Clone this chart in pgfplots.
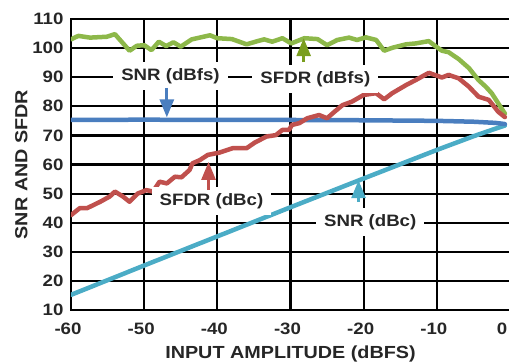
\documentclass[border=0pt]{standalone}
\usepackage{fontspec}
\setmainfont{Liberation Sans}[FakeStretch=1.13]
\usepackage{pgfplots}
\pgfplotsset{compat=1.18}
\usetikzlibrary{arrows.meta,calc}

\definecolor{sfdrfs}{HTML}{8DB84A}
\definecolor{sfdrfsarrow}{HTML}{7A9E1E}
\definecolor{sfdrc}{HTML}{C0504D}
\definecolor{snrfs}{HTML}{4A7EBF}
\definecolor{snrc}{HTML}{4BACC6}

\begin{document}
\begin{tikzpicture}[
  lbl/.style={font=\bfseries\fontsize{16.5}{18}\selectfont, text=black!85, fill=white,
              inner xsep=8pt, inner ysep=6pt},
  arr/.style={line width=2.8pt, -{Triangle[width=14pt,length=18pt]}}]
\begin{axis}[
  scale only axis, width=439pt, height=291pt,
  xmin=-60, xmax=0, ymin=10, ymax=110,
  xtick={-60,-50,...,-10}, ytick={10,20,...,110},
  extra x ticks={0},
  extra x tick style={xticklabel style={xshift=-5pt}},
  grid=major, major grid style={black, line width=2.2pt},
  axis line style={black, line width=2.2pt},
  major tick length=0pt,
  /pgf/number format/assume math mode=true,
  tick label style={font=\bfseries\fontsize{16.5}{18}\selectfont, text=black!85},
  xticklabel style={yshift=-9pt, xshift=-3pt},
  yticklabel style={xshift=-4pt},
  xlabel={INPUT AMPLITUDE (dBFS)},
  ylabel={SNR AND SFDR},
  label style={font=\bfseries\fontsize{17.5}{19}\selectfont, text=black!85},
  xlabel style={yshift=-5pt},
  ylabel style={yshift=-2pt},
  every axis plot/.style={line width=4.5pt, line join=round, line cap=round},
]
\coordinate (ll) at (rel axis cs:0,0);

% SNR (dBc)
\addplot[snrc] coordinates {
(-60,15.2)(-50,25.3)(-40,35.3)(-30,45.3)(-20,55.2)(-10,65.0)(-5,69.7)(-2,72.3)(-0.7,73.4)};

% SNR (dBfs)
\addplot[snrfs] coordinates {
(-60,75.3)(-50,75.4)(-40,75.3)(-30,75.3)(-20,75.2)(-10,75.0)(-5,74.7)(-2,74.3)(-0.7,73.9)};

% SFDR (dBfs)
\addplot[sfdrfs] coordinates {
(-60,103.0)(-59,104.2)(-57.4,103.6)(-55.1,103.9)(-54,104.8)(-52,99.1)(-51,100.8)
(-50,101.0)(-49,99.3)(-48,102.2)(-47,100.7)(-46,102.0)(-45,100.5)(-43.5,103.0)
(-41,104.4)(-40,103.4)(-38,103.1)(-36,101.3)(-34.5,102.4)(-33.6,103.0)(-32.5,102.2)
(-31.1,103.4)(-29.9,101.6)(-28.1,103.4)(-26.3,103.1)(-25,101.0)(-23.6,102.8)
(-22,103.6)(-20.9,102.8)(-19.7,103.7)(-18.3,102.8)(-17.2,99.1)(-16.1,100.1)
(-14.2,101.3)(-12.9,101.6)(-11.1,102.4)(-10.1,100.5)(-9.3,99.1)(-8.4,98.6)
(-7,96.2)(-5.6,93.1)(-4.3,89.0)(-3.3,86.7)(-2.5,84.5)(-1.6,81.0)(-0.7,77.5)};

% SFDR (dBc)
\addplot[sfdrc] coordinates {
(-60,42.6)(-58.8,45.0)(-57.8,45.0)(-56,47.2)(-54.7,49.0)(-54,50.7)(-52.9,49.0)
(-52,47.2)(-50.9,50.0)(-49.7,51.2)(-48.8,50.7)(-47.9,54.1)(-46.9,53.5)(-45.8,55.8)
(-44.9,55.6)(-43.8,58.1)(-43.4,60.4)(-42.4,61.5)(-41.3,63.3)(-39.7,64.1)(-37.9,65.6)
(-36,65.6)(-34.9,67.5)(-33.3,69.6)(-32,70.1)(-31.1,71.9)(-30.2,71.9)(-29.8,73.6)
(-28.8,74.2)(-27.7,75.9)(-26.1,77.0)(-25,75.9)(-24,78.1)(-22.9,80.4)(-21.6,81.6)
(-20,83.9)(-18.3,84.5)(-17.2,82.4)(-16.1,84.5)(-14.2,87.3)(-12.9,89.0)(-11.1,91.5)
(-9.3,89.9)(-8.4,90.8)(-7,89.6)(-5.6,86.7)(-4.3,83.3)(-2.9,82.2)(-1.6,78.1)(-0.7,76.3)};

% series labels and pointers
\node[lbl] at (axis cs:-46.4,90.4) {SNR (dBfs)};
\draw[arr, snrfs] (axis cs:-46.9,86.3) -- (axis cs:-46.9,76.2);

\node[lbl] at (axis cs:-26.6,89.4) {SFDR (dBfs)};
\draw[arr, sfdrfsarrow] (axis cs:-28.2,95.2) -- (axis cs:-28.2,103.4);

\node[lbl] at (axis cs:-40.8,47.5) {SFDR (dBc)};
\draw[arr, sfdrc] (axis cs:-41.2,51.2) -- (axis cs:-41.2,60.9);

\node[lbl] at (axis cs:-19.1,40.2) {SNR (dBc)};
\draw[arr, snrc] (axis cs:-20.7,47.1) -- (axis cs:-20.7,54.6);
\end{axis}
\pgfresetboundingbox
\path[use as bounding box] ($(ll)+(-71pt,-52pt)$) rectangle ($(ll)+(438pt,310pt)$);
\end{tikzpicture}
\end{document}
